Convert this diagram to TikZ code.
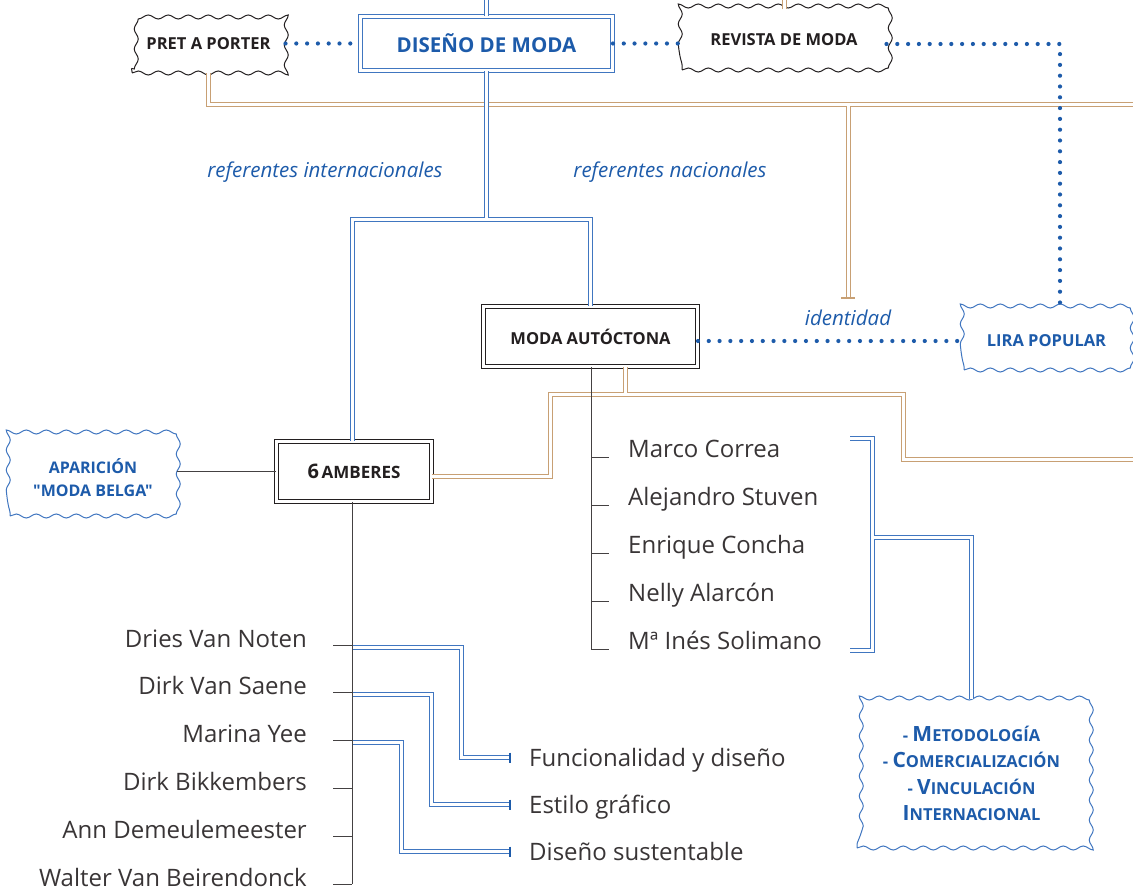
\documentclass[tikz,border=0pt]{standalone}
\usepackage{fontspec}
\setmainfont{Open Sans}[Ligatures=TeXOff]
\usepackage{tikz}
\usetikzlibrary{positioning,
                arrows.meta,               % arrow tips
                decorations.pathmorphing}  % wavy frames

\definecolor{modablue}{RGB}{29,91,170}
\definecolor{lineblue}{RGB}{64,118,192}
\definecolor{modatan}{RGB}{200,160,116}
\definecolor{ink}{RGB}{35,31,32}

% capital first letter, rest in small caps size
\newcommand{\scw}[2]{{\fontsize{21}{26.5}\selectfont #1}#2}

\tikzset{
  dblbox/.style={draw, double, double distance=3pt, line width=0.9pt, fill=white, inner sep=0pt},
  wavy/.style={draw, line width=1pt, fill=white, inner sep=0pt, decorate,
               decoration={snake, segment length=20pt, amplitude=2pt}},
  boxlabel/.style={font=\bfseries\fontsize{16.5}{20}\selectfont},
  person/.style={font=\fontsize{24}{28}\selectfont, text=ink!90, inner sep=0pt},
  refer/.style={font=\itshape\fontsize{20.5}{24}\selectfont, text=modablue},
  bluelink/.style={draw=lineblue, double=white, double distance=3pt, line width=1pt},
  tanlink/.style={draw=modatan, double=white, double distance=3pt, line width=1pt},
  dotlink/.style={modablue, line width=4.2pt, line cap=round, dash pattern=on 0pt off 10.8pt},
  spine/.style={ink!85, line width=1pt},
  barend/.style={line width=2.2pt}
}

\begin{document}
\begin{tikzpicture}[x=1pt, y=-1pt]
\useasboundingbox (0,0) rectangle (1133,890);

% boxes
\node[dblbox, draw=lineblue, text=modablue, font=\bfseries\fontsize{20.5}{24}\selectfont,
      minimum width=252pt, minimum height=54pt] (diseno) at (486.5,43.5) {DISEÑO DE MODA};
\node[wavy, draw=ink, boxlabel, text=ink, minimum width=153pt, minimum height=59pt] (pret) at (208.5,43.5) {PRET A PORTER};
\node[wavy, draw=ink, boxlabel, text=ink, minimum width=204pt, minimum height=60pt] (revista) at (784,40) {REVISTA DE MODA};
\node[dblbox, draw=ink, boxlabel, text=ink, minimum width=214pt, minimum height=60pt] (moda) at (590.5,336.5) {MODA AUTÓCTONA};
\node[wavy, draw=lineblue, boxlabel, text=modablue, minimum width=165pt, minimum height=58pt] (lira) at (1046.5,341) {LIRA POPULAR};
\node[dblbox, draw=ink, text=ink, font=\bfseries, minimum width=155pt, minimum height=60pt] (amberes) at (354,471.5)
  {{\fontsize{20}{22}\selectfont 6} {\fontsize{17}{22}\selectfont AMBERES}};
\node[wavy, draw=lineblue, text=modablue, font=\bfseries\fontsize{16}{23.5}\selectfont, align=center,
      minimum width=166pt, minimum height=77pt] (aparicion) at (93,477.5) {APARICIÓN\\"MODA BELGA"};
\node[wavy, draw=lineblue, text=modablue, font=\bfseries\fontsize{16.5}{26.5}\selectfont, align=center,
      minimum width=229pt, minimum height=149pt] (ejes) at (971.5,773.5)
  {- \scw{M}{ETODOLOGÍA}\\- \scw{C}{OMERCIALIZACIÓN}\\- \scw{V}{INCULACIÓN}\\\scw{I}{NTERNACIONAL}};

\node[refer] (intl) at (325,172) {referentes internacionales};
\node[refer] (nac) at (670,172) {referentes nacionales};
\node[refer] (ident) at (848,318) {identidad};

% designers
\foreach \name [count=\i] in {Dries Van Noten, Dirk Van Saene, Marina Yee, Dirk Bikkembers,
                              Ann Demeulemeester, Walter Van Beirendonck} {
  \pgfmathsetmacro{\ty}{645+47.8*(\i-1)}
  \coordinate (s\i) at (352,\ty);
  \node[person, anchor=base east] (b\i) at (307,\ty+2) {\name};
}
\foreach \name [count=\i] in {Marco Correa, Alejandro Stuven, Enrique Concha, Nelly Alarcón,
                              Mª Inés Solimano} {
  \pgfmathsetmacro{\ty}{458+47.75*(\i-1)}
  \coordinate (n\i) at (591,\ty);
  \node[person, anchor=base west] (m\i) at (628,\ty) {\name};
}
\foreach \txt [count=\i] in {Funcionalidad y diseño, Estilo gráfico, Diseño sustentable} {
  \pgfmathsetmacro{\ty}{766+47*(\i-1)}
  \node[person, anchor=base west] (d\i) at (529,\ty) {\txt};
  \coordinate (e\i) at ([xshift=-19pt, yshift=8.5pt]d\i.base west);
}
\coordinate (split) at (486.5,220);
\coordinate (idbar) at (848,298);
\coordinate (brtop) at (850,438.5);
\coordinate (brbot) at (850,650);

% tan links
\draw[tanlink] (revista.north) -- (revista.north |- 0,0);
\draw[tanlink] (pret.south) |- (1133,105) (848,105) -- (idbar);
\draw[modatan, barend] ([xshift=-7pt]idbar) -- ([xshift=7pt]idbar);
\draw[tanlink] ([yshift=-5pt]amberes.east) -| (550,395) -| (903,460) -- (1133,460)
               (625,395) -- (moda.south -| 625,0);

% blue links
\draw[bluelink] (diseno.north) -- (diseno.north |- 0,0);
\draw[bluelink] (amberes.north -| s1) |- (split) -| (moda.north) (split) -- (diseno.south);
\draw[bluelink] (brtop) -| (872,537) |- (brbot) (872,537) -| (ejes.north);
\foreach \i/\xk in {1/461, 2/431, 3/401} {
  \draw[bluelink] ([yshift=-2pt]s\i) -| (\xk,0 |- e\i) -- (e\i);
  \draw[modablue, barend] ([yshift=5pt]e\i) -- ([yshift=-5pt]e\i);
}

% black lines
\draw[spine] (amberes.west) -- (amberes.west -| aparicion.east);
\draw[spine] (amberes.south -| s1) -- (s6);
\foreach \i in {1,...,6} \draw[spine, shorten >=26pt] (s\i) -- (s\i -| b\i.east);
\draw[spine] (moda.south -| n1) -- (n5);
\foreach \i in {1,...,5} \draw[spine, shorten >=19pt] (n\i) -- (n\i -| m\i.west);

% dotted links
\draw[dotlink] (pret) -- (diseno);
\draw[dotlink] (diseno.east) -- (diseno.east -| revista.west);
\draw[dotlink] ([yshift=-4pt]revista.east) -| ([xshift=13.5pt]lira.north);
\draw[dotlink] (moda.east |- lira.west) -- (lira.west);
\end{tikzpicture}
\end{document}
